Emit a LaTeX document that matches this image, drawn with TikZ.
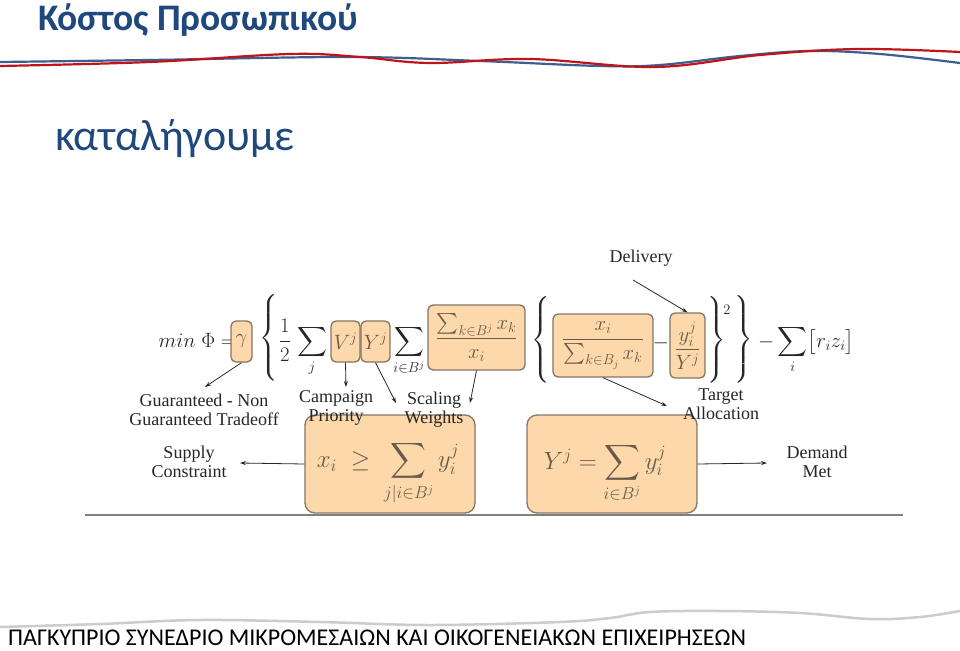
\documentclass[tikz,border=0pt]{standalone}
\usepackage{amsmath}
\usepackage{fontspec}
\setmainfont{Liberation Serif}
\newfontfamily\slidefont{Carlito}
\newfontfamily\footfont{Carlito}
\usetikzlibrary{arrows.meta}
\definecolor{titleblue}{HTML}{1F497D}
\definecolor{wavered}{HTML}{C0141C}
\definecolor{waveblue}{HTML}{3C5F8F}
\definecolor{boxfill}{HTML}{FCD8AA}
\definecolor{boxline}{HTML}{857565}
\definecolor{boxtext}{HTML}{6A5A4A}
\definecolor{ink}{HTML}{262626}
\tikzset{
  obox/.style={draw=boxline, line width=1.3pt, fill=boxfill, rounded corners=5pt, text=boxtext, inner sep=0pt, font=\fontsize{20}{24}\selectfont},
  bigbox/.style={obox, rounded corners=10pt},
  bigtext/.style={text=boxtext, inner sep=0pt, font=\fontsize{26}{30}\selectfont},
  mtext/.style={text=ink, inner sep=0pt, font=\fontsize{20}{24}\selectfont},
  lbl/.style={text=ink, inner sep=1pt, align=center, font=\fontsize{18}{19}\selectfont},
  arr/.style={draw=ink, line width=0.8pt, -{Stealth[length=6pt,width=4pt]}},
}
\begin{document}
\begin{tikzpicture}[x=1pt,y=-1pt]
\useasboundingbox (0,0) rectangle (960,650);
\fill[white] (0,0) rectangle (960,650);
% title
\node[anchor=base west, inner sep=0pt, text=titleblue, font=\slidefont\bfseries\fontsize{37.5}{42}\selectfont] (title) at (38,31) {Κόστος Προσωπικού};
% waves
\draw[waveblue, line width=2.2pt] plot[smooth, tension=0.6] coordinates {(0,62) (150,60) (350,57) (480,61) (600,66) (660,65) (740,56) (810,51) (880,54) (960,63)};
\draw[wavered, line width=2.2pt] plot[smooth, tension=0.6] coordinates {(0,66) (150,62) (290,54) (360,57) (430,63) (530,59) (655,67) (760,55) (858,49) (960,52)};
% subtitle
\node[anchor=base west, inner sep=0pt, text=titleblue, font=\slidefont\fontsize{44}{48}\selectfont] (sub) at (55,150) {καταλήγουμε};
% formula
\node[mtext, anchor=base east, font=\fontsize{21}{24}\selectfont] (minphi) at (236,347) {$min\;\Phi =$};
\node[obox, minimum width=21pt, minimum height=41pt] (gam) at (241.5,341.5) {$\gamma$};
\node[mtext] (br1) at (269,338) {$\left\{\vrule height 38pt depth 38pt width 0pt\right.$};
\node[mtext, anchor=base] (half) at (285,347) {$\dfrac12$};
\node[mtext, anchor=base] (sumj) at (312,347) {$\displaystyle\sum_j$};
\node[obox, minimum width=29pt, minimum height=41pt] (vbox) at (345.5,341.5) {$V^j$};
\node[obox, minimum width=29pt, minimum height=41pt] (ybox) at (375.5,341.5) {$Y^j$};
\node[mtext, anchor=base] (sumi) at (409,347) {$\displaystyle\sum_{i\in B^j}$};
\node[obox, minimum width=97pt, minimum height=65pt] (fr1) at (476.5,337.5) {$\dfrac{\sum_{k\in B^j} x_k}{x_i}$};
\node[mtext] (br2) at (541,340) {$\left\{\vrule height 36pt depth 36pt width 0pt\right.$};
\node[obox, minimum width=100pt, minimum height=63pt] (fr2) at (603,345.5) {$\dfrac{x_i}{\sum_{k\in B_j} x_k}$};
\node[mtext] (minus) at (661,343) {$-$};
\node[obox, minimum width=35pt, minimum height=65pt] (fr3) at (687.5,345.5) {$\dfrac{y_i^j}{Y^j}$};
\node[mtext] (br3) at (716,340) {$\left.\vrule height 35pt depth 35pt width 0pt\right\}$};
\node[mtext, font=\fontsize{14}{16}\selectfont] (sq) at (727,310) {$2$};
\node[mtext] (br4) at (743,340) {$\left.\vrule height 40pt depth 40pt width 0pt\right\}$};
\node[mtext, anchor=base west] (rest) at (758,347) {$-\displaystyle\sum_i \bigl[r_i z_i\bigr]$};
% bottom boxes
\node[bigbox, minimum width=170pt, minimum height=98pt] (b1) at (390,464) {};
\node[bigtext] (b1t) at (388,473) {$x_i \;\geq\; \displaystyle\sum_{j|i\in B^j} y_i^j$};
\node[bigbox, minimum width=170pt, minimum height=98pt] (b2) at (612,464) {};
\node[bigtext] (b2t) at (605,473) {$Y^j = \displaystyle\sum_{i\in B^j} y_i^j$};
% labels
\node[lbl] (deliv) at (641,258) {Delivery};
\node[lbl] (gnt) at (204,410) {Guaranteed - Non\\Guaranteed Tradeoff};
\node[lbl] (camp) at (336,408) {Campaign\\Priority};
\node[lbl] (scal) at (434,410) {Scaling\\Weights};
\node[lbl] (targ) at (721,404) {Target\\Allocation};
\node[lbl] (supply) at (189,462) {Supply\\Constraint};
\node[lbl] (demand) at (817,462) {Demand\\Met};
% arrows
\coordinate (gntin) at (205,387);
\coordinate (campin) at (346,387);
\coordinate (scalinL) at (396,403);
\coordinate (scalinR) at (470,403);
\coordinate (targin) at (667,406);
\coordinate (delivout) at (633,280);
\coordinate (supin) at (240,463);
\coordinate (demin) at (767,463);
\draw[arr] (gam.south) -- (gntin);
\draw[arr] (vbox.south) -- (campin);
\draw[arr] (ybox.south) -- (scalinL);
\draw[arr] (fr1.south) -- (scalinR);
\draw[arr] (fr2.south) -- (targin);
\draw[arr] (delivout) -- (fr3.north);
\draw[arr] (b1.west) -- (supin);
\draw[arr] (b2.east) -- (demin);
% base line
\draw[gray, line width=1.8pt] (85,515) coordinate (bl) -- (903,515) coordinate (br);
% footer wave
\draw[black!20, line width=2.5pt] plot[smooth, tension=0.6] coordinates {(0,627) (100,624) (200,620) (320,622) (430,625) (560,622) (610,618) (650,612) (720,611) (800,613) (870,619) (920,617) (960,611)};
% footer
\node[anchor=base west, inner sep=0pt, text=black, font=\footfont\fontsize{24}{28}\selectfont] (foot) at (8,645) {ΠΑΓΚΥΠΡΙΟ ΣΥΝΕΔΡΙΟ ΜΙΚΡΟΜΕΣΑΙΩΝ ΚΑΙ ΟΙΚΟΓΕΝΕΙΑΚΩΝ ΕΠΙΧΕΙΡΗΣΕΩΝ};
\end{tikzpicture}
\end{document}
